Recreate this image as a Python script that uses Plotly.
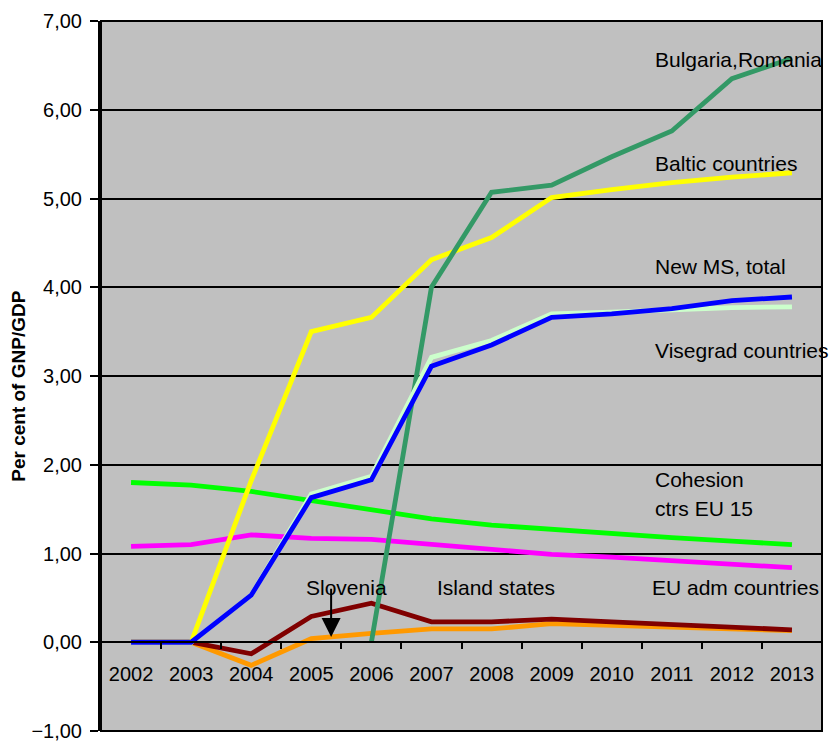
import plotly.graph_objects as go

years = ["2002", "2003", "2004", "2005", "2006", "2007", "2008", "2009", "2010", "2011", "2012", "2013"]

cohesion = [1.80, 1.77, 1.70, 1.60, 1.50, 1.39, 1.32, 1.27, 1.22, 1.18, 1.14, 1.10]
eu_adm = [1.08, 1.10, 1.21, 1.17, 1.16, 1.10, 1.04, 0.99, 0.96, 0.92, 0.88, 0.84]
slovenia = [0.0, 0.0, -0.26, 0.04, 0.10, 0.15, 0.15, 0.21, 0.19, 0.17, 0.15, 0.13]
island = [0.0, 0.0, -0.13, 0.29, 0.44, 0.23, 0.23, 0.26, 0.23, 0.20, 0.17, 0.14]
baltic = [0.0, 0.0, 1.82, 3.50, 3.66, 4.31, 4.56, 5.01, 5.10, 5.18, 5.24, 5.29]
bulg_rom = [None, None, None, None, 0.0, 4.00, 5.07, 5.15, 5.47, 5.76, 6.35, 6.58]
visegrad = [0.0, 0.0, 0.53, 1.67, 1.87, 3.21, 3.40, 3.70, 3.72, 3.75, 3.77, 3.78]
new_ms = [0.0, 0.0, 0.53, 1.63, 1.83, 3.11, 3.35, 3.66, 3.70, 3.76, 3.85, 3.89]

series = [
    ("Cohesion ctrs EU 15", cohesion, "#00FF00"),
    ("EU adm countries", eu_adm, "#FF00FF"),
    ("Slovenia", slovenia, "#FF9900"),
    ("Island states", island, "#800000"),
    ("Baltic countries", baltic, "#FFFF00"),
    ("Bulgaria,Romania", bulg_rom, "#339966"),
    ("Visegrad countries", visegrad, "#CCFFCC"),
    ("New MS, total", new_ms, "#0000FF"),
]

fig = go.Figure()
for name, vals, col in series:
    fig.add_trace(go.Scatter(x=years, y=vals, mode="lines", name=name,
                             line=dict(color=col, width=4.8), connectgaps=False))

FONT = "Liberation Sans, Arial, sans-serif"

fig.update_layout(
    width=832, height=752,
    margin=dict(l=101, r=10, t=20, b=16),
    paper_bgcolor="white",
    plot_bgcolor="#C0C0C0",
    showlegend=False,
    separators=",.",
    font=dict(family=FONT, size=20, color="black"),
)

fig.update_yaxes(
    range=[-1, 7], dtick=1, tickformat=".2f",
    showgrid=True, gridcolor="black", gridwidth=2,
    zeroline=False,
    showline=True, linecolor="black", linewidth=3,
    ticks="outside", ticklen=8, tickwidth=2, tickcolor="black",
    ticklabelstandoff=4,
    tickfont=dict(family=FONT, size=20, color="black"),
)

fig.update_xaxes(
    type="category", range=[-0.5, 11.5],
    anchor="free", position=0.125,
    showgrid=False, zeroline=False,
    showline=True, linecolor="black", linewidth=2,
    ticks="outside", tickson="boundaries", ticklen=6, tickwidth=2, tickcolor="black",
    ticklabelstandoff=14,
    tickfont=dict(family=FONT, size=20, color="black"),
)

# plot border
fig.add_shape(type="rect", xref="paper", yref="paper", x0=0, y0=0, x1=1, y1=1,
              line=dict(color="black", width=2), fillcolor="rgba(0,0,0,0)", layer="above")

labels = [
    ("Bulgaria,Romania", 8.69, 6.57),
    ("Baltic countries", 8.69, 5.40),
    ("New MS, total", 8.69, 4.23),
    ("Visegrad countries", 8.69, 3.29),
    ("Cohesion", 8.69, 1.83),
    ("ctrs EU 15", 8.69, 1.51),
    ("EU adm countries", 8.63, 0.615),
    ("Island states", 5.06, 0.615),
    ("Slovenia", 2.88, 0.615),
]
for txt, xx, yy in labels:
    fig.add_annotation(x=xx, y=yy, xref="x", yref="y", text=txt, showarrow=False,
                       xanchor="left", yanchor="middle",
                       font=dict(family=FONT, size=21, color="black"))

# arrow for Slovenia
fig.add_annotation(x=3.33, y=0.06, xref="x", yref="y", ax=3.33, ay=0.62,
                   axref="x", ayref="y", text="", showarrow=True,
                   arrowhead=2, arrowsize=1.9, arrowwidth=2, arrowcolor="black")

# y-axis title
fig.add_annotation(x=-0.114, y=0.486, xref="paper", yref="paper",
                   text="<b>Per cent of GNP/GDP</b>", showarrow=False, textangle=-90,
                   xanchor="center", yanchor="middle",
                   font=dict(family=FONT, size=19, color="black"))

fig.write_html("out.html")
